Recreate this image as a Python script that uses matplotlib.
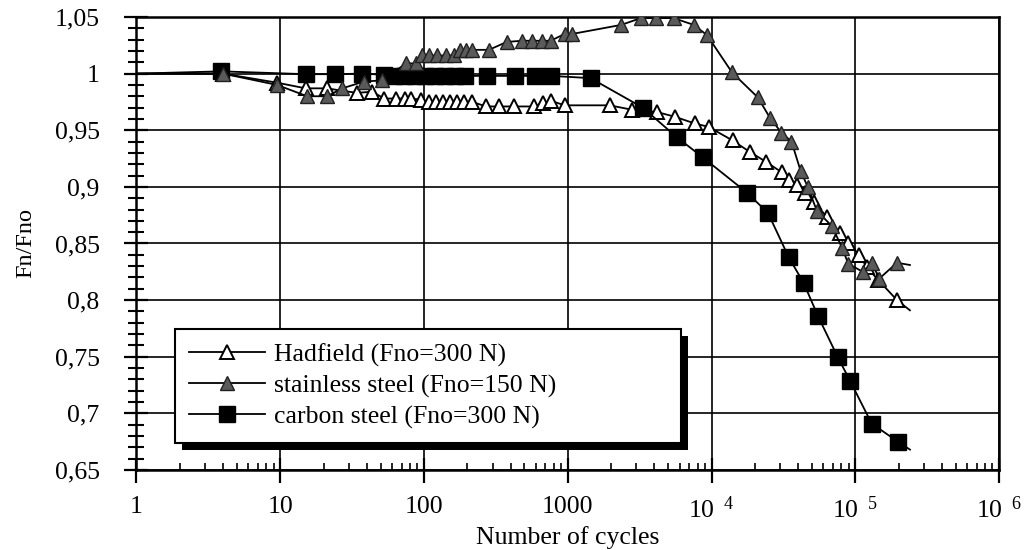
import matplotlib
matplotlib.use("Agg")
import matplotlib.pyplot as plt
from matplotlib.ticker import FixedLocator, FixedFormatter, LogLocator, NullFormatter, MultipleLocator
from matplotlib.patches import Rectangle

plt.rcParams['font.family'] = ['Liberation Serif', 'DejaVu Serif']
plt.rcParams['mathtext.fontset'] = 'custom'
plt.rcParams['mathtext.rm'] = 'Liberation Serif'
plt.rcParams['mathtext.it'] = 'Liberation Serif'

# Hadfield (Fno=300 N)
had_x = [1, 4, 9.5, 15, 21, 34, 43.5, 53, 63.5, 74, 81, 96,
         108, 121, 136, 152, 169, 190, 216, 271, 334, 424, 585,
         668, 765, 950, 1960, 2820, 4200, 5530, 7640, 9530,
         14000, 18400, 24000, 30700, 34800, 39500, 44400, 52000,
         63500, 78400, 88400, 107000, 120000, 144000, 195000, 240000]
had_y = [1.0, 1.0, 0.992, 0.987, 0.987, 0.983, 0.984, 0.978, 0.978, 0.978, 0.978, 0.977,
         0.975, 0.975, 0.975, 0.975, 0.975, 0.975, 0.975, 0.971, 0.971, 0.971, 0.971,
         0.974, 0.976, 0.972, 0.972, 0.968, 0.966, 0.962, 0.956, 0.953,
         0.941, 0.931, 0.922, 0.913, 0.906, 0.902, 0.895, 0.887,
         0.873, 0.859, 0.850, 0.840, 0.829, 0.818, 0.800, 0.791]

# stainless steel (Fno=150 N)
st_x = [1, 4, 9.5, 15.4, 21.2, 27, 38.3, 51, 75, 88,
        97, 109, 124, 142, 161, 178, 196, 215, 283, 377,
        480, 564, 660, 760, 950, 1070, 2350, 3220, 4100, 5450,
        7540, 9300, 13900, 21000, 25500, 30600, 36000, 41700, 46700,
        54000, 69100, 81000, 89500, 113000, 130000, 147000, 195000, 240000]
st_y = [1.0, 1.0, 0.990, 0.980, 0.980, 0.987, 0.993, 0.994, 1.009, 1.009,
        1.016, 1.016, 1.016, 1.016, 1.016, 1.021, 1.021, 1.021, 1.021, 1.028,
        1.029, 1.029, 1.029, 1.029, 1.035, 1.035, 1.043, 1.049, 1.049, 1.049,
        1.043, 1.034, 1.001, 0.979, 0.961, 0.948, 0.940, 0.914, 0.900,
        0.879, 0.865, 0.846, 0.832, 0.825, 0.833, 0.819, 0.833, 0.831]

# carbon steel (Fno=300 N)
cs_x = [1, 3.9, 15.2, 23.9, 36.8, 53, 62, 73, 86, 101, 119, 139, 164, 192,
        273, 427, 590, 770, 1440, 3320, 5720, 8700,
        17600, 24700, 34400, 43800, 55000, 75300, 91800, 130000, 198000, 240000]
cs_y = [1.0, 1.002, 0.9995, 0.9995, 1.0, 0.999, 0.998, 0.998, 0.998, 0.998, 0.998, 0.998, 0.998, 0.998,
        0.998, 0.998, 0.998, 0.998, 0.996, 0.970, 0.944, 0.926,
        0.895, 0.877, 0.838, 0.815, 0.786, 0.750, 0.729, 0.691, 0.675, 0.668]

labels = ['Hadfield (Fno=300 N)', 'stainless steel (Fno=150 N)', 'carbon steel (Fno=300 N)']
y_ticks = [0.65, 0.7, 0.75, 0.8, 0.85, 0.9, 0.95, 1.0, 1.05]
y_ticklabels = ['0,65', '0,7', '0,75', '0,8', '0,85', '0,9', '0,95', '1', '1,05']
x_ticks = [1, 10, 100, 1000, 1e4, 1e5, 1e6]
x_ticklabels = ['1', '10', '100', '1000', r'$\mathrm{10}^{\ \ 4}$', r'$\mathrm{10}^{\ \ 5}$', r'$\mathrm{10}^{\ \ 6}$']

fs = 18.5

fig = plt.figure(figsize=(10.24, 5.5), dpi=100)
ax = fig.add_axes([0.1333, 0.1455, 0.8423, 0.8236])

mk = slice(1, -1)
ax.plot(had_x, had_y, color='black', lw=1.3, marker='^', ms=10, mfc='white', mec='black',
        mew=1.4, markevery=mk, label=labels[0], zorder=3)
ax.plot(st_x, st_y, color='black', lw=1.3, marker='^', ms=10, mfc='#5a5a5a', mec='#202020',
        mew=1.0, markevery=mk, label=labels[1], zorder=4)
ax.plot(cs_x, cs_y, color='black', lw=1.3, marker='s', ms=11.5, mfc='black', mec='black',
        markevery=mk, label=labels[2], zorder=3.5)

ax.set_xscale('log')
ax.set_xlim(1, 1e6)
ax.set_ylim(0.65, 1.05)

ax.xaxis.set_major_locator(FixedLocator(x_ticks))
ax.xaxis.set_major_formatter(FixedFormatter(x_ticklabels))
ax.xaxis.set_minor_locator(LogLocator(base=10, subs=range(2, 10), numticks=20))
ax.xaxis.set_minor_formatter(NullFormatter())
ax.yaxis.set_major_locator(FixedLocator(y_ticks))
ax.yaxis.set_major_formatter(FixedFormatter(y_ticklabels))
ax.yaxis.set_minor_locator(MultipleLocator(0.01))

ax.tick_params(axis='y', which='major', direction='inout', length=17, width=1.6,
               labelsize=fs, pad=18)
ax.tick_params(axis='x', which='major', direction='inout', length=18, width=1.6,
               labelsize=fs, pad=10)
ax.tick_params(axis='x', which='minor', direction='in', length=5, width=1.2)
ax.tick_params(axis='y', which='minor', direction='inout', length=11, width=1.5)

ax.grid(True, which='major', color='black', lw=1.2)
for s in ax.spines.values():
    s.set_linewidth(1.8)

ax.set_xlabel('Number of cycles', fontsize=fs, labelpad=2)
ax.set_ylabel('Fn/Fno', fontsize=17.5, labelpad=13)

leg = ax.legend(loc='lower left', bbox_to_anchor=(0.0447, 0.0596, 0.587, 0.262), mode='expand',
                borderaxespad=0, fancybox=False, framealpha=1, edgecolor='black',
                fontsize=fs, handlelength=2.95, handletextpad=0.35, labelspacing=0.3,
                borderpad=0.55)
leg.get_frame().set_linewidth(1.5)
leg.set_zorder(10)

fig.canvas.draw()
bb = leg.get_window_extent().transformed(ax.transAxes.inverted())
dx = 7 / (ax.bbox.width)
dy = 7 / (ax.bbox.height)
shadow = Rectangle((bb.x0 + dx, bb.y0 - dy), bb.width, bb.height, transform=ax.transAxes,
                   facecolor='black', edgecolor='none', zorder=9)
ax.add_patch(shadow)

fig.savefig('out.png', dpi=100)
